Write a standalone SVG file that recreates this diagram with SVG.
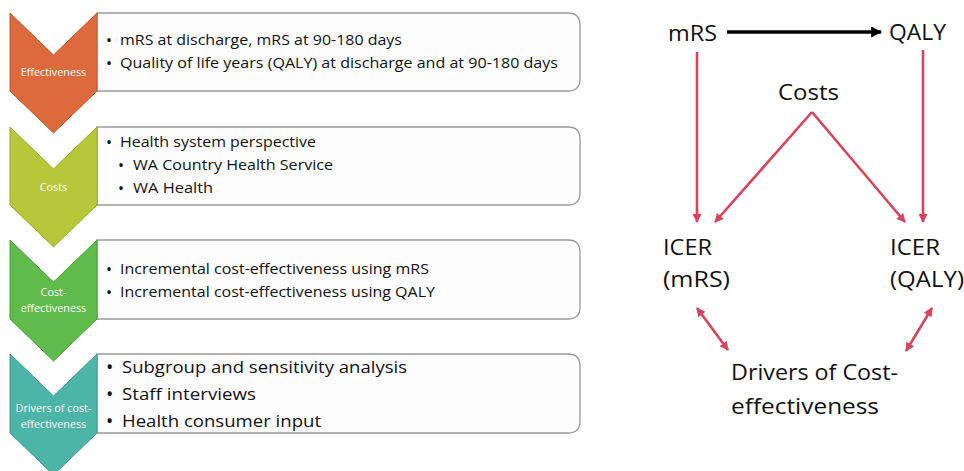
<svg xmlns="http://www.w3.org/2000/svg" width="964" height="471" viewBox="0 0 964 471">
<defs>
<style>
.box{fill:#fdfdfd;stroke:#9a9a9a;stroke-width:1.3}
.chev{stroke-width:1}
.lbl{font-family:"Open Sans","Noto Sans",sans-serif;font-size:10.8px;fill:#ffffff;text-anchor:middle}
.t{font-family:"Open Sans","Noto Sans",sans-serif;font-size:13.6px;fill:#111}
.b{font-family:"Open Sans","Noto Sans",sans-serif;font-size:16px;fill:#111}
.b4{font-family:"Open Sans","Noto Sans",sans-serif;font-size:19.5px;fill:#111}
.t4{font-family:"Open Sans","Noto Sans",sans-serif;font-size:17px;fill:#111}
.r{font-family:"Open Sans","Noto Sans",sans-serif;font-size:21.5px;fill:#111}
.red{stroke:#d9435c;stroke-width:2.6;fill:none}
.blk{stroke:#000;stroke-width:3.5;fill:none}
</style>
<marker id="ra" viewBox="0 0 10 10" refX="9" refY="5" markerWidth="11" markerHeight="9" markerUnits="userSpaceOnUse" orient="auto-start-reverse"><path d="M0,0 L10,5 L0,10 Z" fill="#d9435c"/></marker>
<marker id="ba" viewBox="0 0 10 10" refX="9" refY="5" markerWidth="13" markerHeight="11" markerUnits="userSpaceOnUse" orient="auto"><path d="M0,0 L10,5 L0,10 Z" fill="#000"/></marker>
</defs>
<rect width="964" height="471" fill="#ffffff"/>

<g id="node-effectiveness">
<path class="box" d="M97,13 H568 Q580,13 580,25 V79 Q580,91 568,91 H97 Z"/>
<path class="chev" d="M10,13 L53.5,55 L97,13 L97,91 L53.5,133 L10,91 Z" fill="#dd6a3c" stroke="#c0562e"/>
<text class="lbl" x="53.5" y="76">Effectiveness</text>
<text class="b" x="106" y="46">•</text><text class="t" x="120" y="45" textLength="282" lengthAdjust="spacingAndGlyphs">mRS at discharge, mRS at 90-180 days</text>
<text class="b" x="106" y="69">•</text><text class="t" x="120" y="68" textLength="438" lengthAdjust="spacingAndGlyphs">Quality of life years (QALY) at discharge and at 90-180 days</text>
</g>

<g id="node-costs">
<path class="box" d="M97,127 H568 Q580,127 580,139 V193 Q580,205 568,205 H97 Z"/>
<path class="chev" d="M10,127 L53.5,169 L97,127 L97,205 L53.5,247 L10,205 Z" fill="#b6c73a" stroke="#9aab2c"/>
<text class="lbl" x="53.5" y="191">Costs</text>
<text class="b" x="106" y="148">•</text><text class="t" x="120" y="147" textLength="196" lengthAdjust="spacingAndGlyphs">Health system perspective</text>
<text class="b" x="118" y="171">•</text><text class="t" x="133" y="170" textLength="200" lengthAdjust="spacingAndGlyphs">WA Country Health Service</text>
<text class="b" x="118" y="194">•</text><text class="t" x="133" y="193" textLength="80" lengthAdjust="spacingAndGlyphs">WA Health</text>
</g>

<g id="node-cost-effectiveness">
<path class="box" d="M97,240 H568 Q580,240 580,252 V307 Q580,319 568,319 H97 Z"/>
<path class="chev" d="M10,240 L53.5,282 L97,240 L97,319 L53.5,361 L10,319 Z" fill="#5fbb4a" stroke="#4a9f38"/>
<text class="lbl" x="53.5" y="296">Cost-</text>
<text class="lbl" x="53.5" y="312">effectiveness</text>
<text class="b" x="106" y="275">•</text><text class="t" x="120" y="274" textLength="309" lengthAdjust="spacingAndGlyphs">Incremental cost-effectiveness using mRS</text>
<text class="b" x="106" y="298">•</text><text class="t" x="120" y="297" textLength="315" lengthAdjust="spacingAndGlyphs">Incremental cost-effectiveness using QALY</text>
</g>

<g id="node-drivers">
<path class="box" d="M97,354 H568 Q580,354 580,366 V421 Q580,433 568,433 H97 Z"/>
<path class="chev" d="M10,354 L53.5,396 L97,354 L97,433 L53.5,475 L10,433 Z" fill="#4db5a8" stroke="#3a9b8f"/>
<text class="lbl" x="53.5" y="412">Drivers of cost-</text>
<text class="lbl" x="53.5" y="428">effectiveness</text>
<text class="b4" x="106" y="374">•</text><text class="t4" x="122" y="373" textLength="285" lengthAdjust="spacingAndGlyphs">Subgroup and sensitivity analysis</text>
<text class="b4" x="106" y="401">•</text><text class="t4" x="122" y="400" textLength="134" lengthAdjust="spacingAndGlyphs">Staff interviews</text>
<text class="b4" x="106" y="428">•</text><text class="t4" x="122" y="427" textLength="199" lengthAdjust="spacingAndGlyphs">Health consumer input</text>
</g>

<g id="node-mrs"><text class="r" x="668" y="41" textLength="49" lengthAdjust="spacingAndGlyphs">mRS</text></g>
<g id="node-qaly"><text class="r" x="889" y="40" textLength="57" lengthAdjust="spacingAndGlyphs">QALY</text></g>
<g id="node-costs-r"><text class="r" x="778" y="100" textLength="61" lengthAdjust="spacingAndGlyphs">Costs</text></g>
<g id="node-icer-mrs">
<text class="r" x="663" y="255" textLength="49" lengthAdjust="spacingAndGlyphs">ICER</text>
<text class="r" x="663" y="287" textLength="67" lengthAdjust="spacingAndGlyphs">(mRS)</text>
</g>
<g id="node-icer-qaly">
<text class="r" x="890" y="255" textLength="50" lengthAdjust="spacingAndGlyphs">ICER</text>
<text class="r" x="890" y="287" textLength="74" lengthAdjust="spacingAndGlyphs">(QALY)</text>
</g>
<g id="node-drivers-r">
<text class="r" x="731" y="380" textLength="167" lengthAdjust="spacingAndGlyphs">Drivers of Cost-</text>
<text class="r" x="731" y="414" textLength="148" lengthAdjust="spacingAndGlyphs">effectiveness</text>
</g>

<g id="connectors">
<path class="blk" d="M727,32 L881,32" marker-end="url(#ba)"/>
<path class="red" d="M697,52 L697,222" marker-end="url(#ra)"/>
<path class="red" d="M923,50 L923,222" marker-end="url(#ra)"/>
<path class="red" d="M812,112 L715,222" marker-end="url(#ra)"/>
<path class="red" d="M812,112 L905,222" marker-end="url(#ra)"/>
<path class="red" d="M697,308 L728,350" marker-start="url(#ra)" marker-end="url(#ra)"/>
<path class="red" d="M932,308 L906,351" marker-start="url(#ra)" marker-end="url(#ra)"/>
</g>
</svg>
